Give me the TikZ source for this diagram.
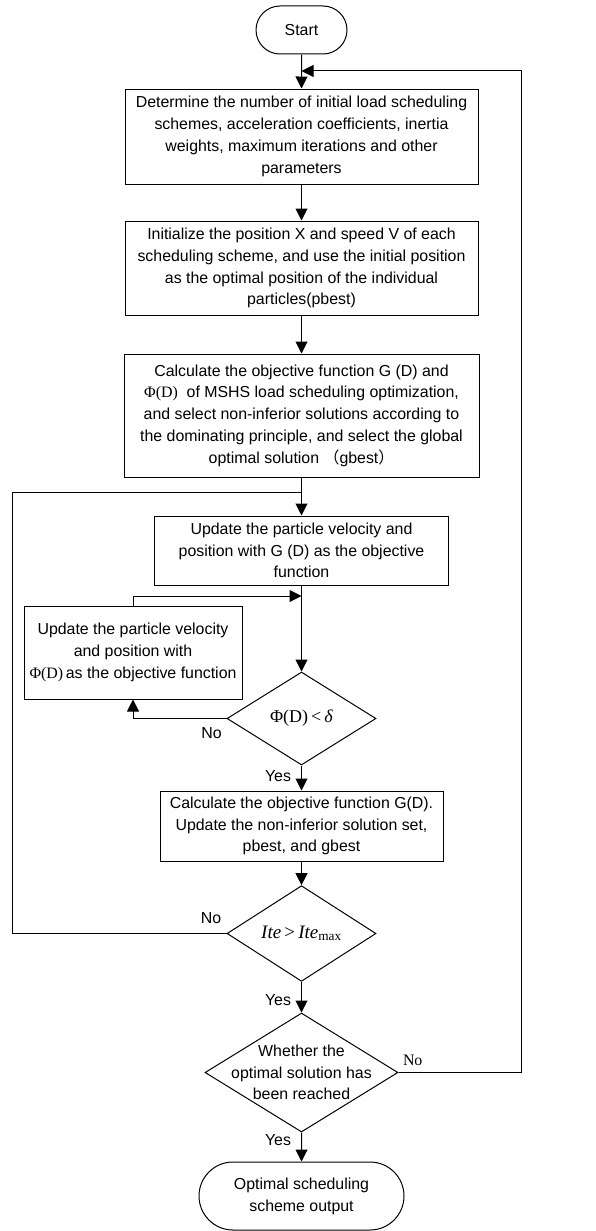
\documentclass[tikz,border=0pt]{standalone}
\usepackage{fontspec}
\setmainfont{Liberation Sans}
\newfontfamily\tnr{Liberation Serif}
\newfontfamily\cjk{Noto Sans CJK SC}
\usetikzlibrary{shapes.geometric, shapes.misc, arrows.meta, positioning, calc}

\begin{document}
\begin{tikzpicture}[x=1pt, y=-1pt,
    font=\fontsize{15.9}{21.8}\selectfont,
    every node/.style={inner sep=0pt},
    procbox/.style={draw, line width=1pt, align=center},
    termbox/.style={draw, rounded rectangle, line width=1pt, align=center},
    decision/.style={draw, diamond, line width=1pt},
    flow/.style={line width=1pt},
    arr/.style={-{Triangle[length=12pt,width=12pt]}}]
    \useasboundingbox (0,0) rectangle (596,1231);

    % Boxes
    \node[termbox, minimum width=91pt, minimum height=48pt] (start) at (301.5,30) {Start};
    \node[procbox, minimum width=353pt, minimum height=95pt] (init) at (301.5,136.5)
      {Determine the number of initial load scheduling\\schemes, acceleration coefficients, inertia\\weights, maximum iterations and other\\parameters};
    \node[procbox, minimum width=353pt, minimum height=94pt] (pos) at (301.5,268)
      {Initialize the position X and speed V of each\\scheduling scheme, and use the initial position\\as the optimal position of the individual\\particles(pbest)};
    \node[procbox, minimum width=355pt, minimum height=123pt] (calc) at (301.5,415.5)
      {Calculate the objective function G (D) and\\{\tnr Φ(D)}\ \ of MSHS load scheduling optimization,\\and select non-inferior solutions according to\\the dominating principle, and select the global\\optimal solution {\cjk （}gbest{\cjk ）}};
    \node[procbox, minimum width=294pt, minimum height=69pt] (upd) at (301.5,550.5)
      {Update the particle velocity and\\position with G (D) as the objective\\function};
    \node[procbox, minimum width=218pt, minimum height=93pt] (updphi) at (133,652.5)
      {Update the particle velocity\\and position with\\{\tnr Φ(D)}\,as the objective function};
    \node[decision, minimum width=149pt, minimum height=93pt] (dphi) at (301.5,718.5)
      {\tnr\fontsize{18}{22}\selectfont Φ(D)\,<\,\textit{δ}};
    \node[procbox, minimum width=283pt, minimum height=70pt] (eval) at (301.5,826)
      {Calculate the objective function G(D).\\Update the non-inferior solution set,\\pbest, and gbest};
    \node[decision, minimum width=149pt, minimum height=93pt] (dite) at (301.5,933.5)
      {\tnr\fontsize{19}{22}\selectfont\textit{Ite}\,>\,\textit{Ite}\textsubscript{max}};
    \node[decision, minimum width=193pt, minimum height=119pt,
      label={[align=center]center:Whether the\\optimal solution has\\been reached}] (dopt) at (301.5,1072.5) {};
    \node[termbox, minimum width=205pt, minimum height=68pt] (stop) at (301.5,1196)
      {Optimal scheduling\\scheme output};

    % Joints
    \coordinate (join1) at (301.5,71);
    \coordinate (join3) at (301.5,492);
    \coordinate (join5) at (301.5,596);
    \coordinate (lft) at (12,492);
    \coordinate (rgt) at (521,71);

    % Main flow
    \draw[flow,arr] (start) -- (init);
    \draw[flow,arr] (init) -- (pos);
    \draw[flow,arr] (pos) -- (calc);
    \draw[flow,arr] (calc) -- (upd);
    \draw[flow,arr] (upd) -- (dphi);
    \draw[flow,arr] (dphi) -- node[pos=0.42, left=10pt] (yes1) {Yes} (eval);
    \draw[flow,arr] (eval) -- (dite);
    \draw[flow,arr] (dite) -- node[pos=0.58, left=10pt] (yes2) {Yes} (dopt);
    \draw[flow,arr] (dopt) -- node[pos=0.25, left=10pt] (yes3) {Yes} (stop);

    % Loops
    \draw[flow,arr] (dphi.west) -| node[pos=0.08, below=9pt] (no1) {No} (updphi.south);
    \draw[flow,arr] (updphi.north) |- (join5);
    \draw[flow] (dite.west) -- node[pos=0.072, above=9pt] (no2) {No} (dite.west -| lft) |- (join3);
    \draw[flow,arr] (dopt.east) -- node[pos=0, above right=6pt and 4pt, font=\tnr\fontsize{15.9}{18}\selectfont] (no3) {No}
      (dopt.east -| rgt) |- (join1);
\end{tikzpicture}
\end{document}
